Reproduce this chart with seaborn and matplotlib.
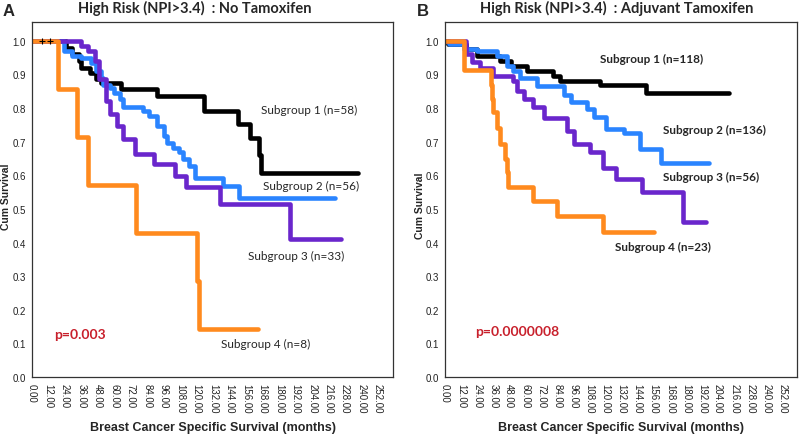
import matplotlib
matplotlib.use("Agg")
import matplotlib.pyplot as plt
import seaborn as sns
import pandas as pd

sns.set_theme(style="white")
plt.rcParams['font.family'] = ['DejaVu Sans']

# ---------------- Panel A: No Tamoxifen (time in months, cumulative survival)
a1_t = [0, 25, 29, 34, 36, 42, 47, 50, 65, 91, 125, 150, 159, 165, 167, 237.5]
a1_s = [1.0, 0.98, 0.96, 0.94, 0.92, 0.905, 0.888, 0.874, 0.856, 0.836, 0.792, 0.752, 0.712, 0.66, 0.606, 0.606]
a2_t = [0, 23, 29, 36, 43, 47, 50, 52, 57, 60, 64, 66, 81, 85, 91, 96, 98, 103, 107, 110, 114, 119, 139, 151, 220.5]
a2_s = [1.0, 0.97, 0.955, 0.95, 0.935, 0.91, 0.89, 0.87, 0.86, 0.846, 0.826, 0.802, 0.79, 0.777, 0.747, 0.717, 0.697, 0.68, 0.668, 0.648, 0.628, 0.593, 0.569, 0.534, 0.534]
a3_t = [0, 36, 41, 46, 49, 54, 57, 62, 66, 75, 89, 104, 112, 137, 188, 225]
a3_s = [1.0, 0.985, 0.97, 0.94, 0.886, 0.82, 0.782, 0.747, 0.707, 0.663, 0.633, 0.598, 0.564, 0.514, 0.41, 0.41]
a4_t = [0, 19, 33, 41, 76, 120, 122, 164.5]
a4_s = [1.0, 0.857, 0.714, 0.571, 0.429, 0.286, 0.143, 0.143]

# ---------------- Panel B: Adjuvant Tamoxifen
b1_t = [0, 2, 16, 24, 41, 49, 61, 81, 86, 116, 150, 212]
b1_s = [1.0, 0.99, 0.975, 0.955, 0.94, 0.926, 0.911, 0.896, 0.881, 0.868, 0.846, 0.846]
b2_t = [0, 3, 14, 24, 39, 46, 51, 56, 69, 89, 94, 106, 111, 120, 134, 146, 161, 197]
b2_s = [1.0, 0.99, 0.975, 0.97, 0.955, 0.925, 0.911, 0.891, 0.866, 0.84, 0.817, 0.797, 0.774, 0.737, 0.727, 0.678, 0.638, 0.638]
b3_t = [0, 16, 20, 26, 36, 51, 54, 59, 66, 74, 91, 96, 108, 118, 128, 147, 178, 195]
b3_s = [1.0, 0.96, 0.936, 0.92, 0.896, 0.88, 0.85, 0.827, 0.802, 0.772, 0.732, 0.693, 0.668, 0.623, 0.588, 0.549, 0.46, 0.46]
b4_t = [0, 14, 34, 35, 36, 39, 41, 45, 46, 47, 66, 84, 118, 156]
b4_s = [1.0, 0.913, 0.87, 0.826, 0.787, 0.74, 0.693, 0.65, 0.61, 0.564, 0.524, 0.479, 0.43, 0.43]

groups = ["Subgroup 1", "Subgroup 2", "Subgroup 3", "Subgroup 4"]
colors = ["#000000", "#2a84ff", "#6a26cc", "#ff8a1e"]

titles = ["High Risk (NPI>3.4)  : No Tamoxifen", "High Risk (NPI>3.4)  : Adjuvant Tamoxifen"]
panel_letters = ["A", "B"]
a_labels = ["Subgroup 1 (n=58)", "Subgroup 2 (n=56)", "Subgroup 3 (n=33)", "Subgroup 4 (n=8)"]
b_labels = ["Subgroup 1 (n=118)", "Subgroup 2 (n=136)", "Subgroup 3 (n=56)", "Subgroup 4 (n=23)"]
a_label_pos = [(167, 0.797), (168, 0.571), (157, 0.362), (138, 0.10)]
b_label_pos = [(116, 0.948), (163, 0.737), (163, 0.598), (127, 0.388)]
p_values = ["p=0.003", "p=0.0000008"]
p_pos = [(16.5, 0.127), (22.5, 0.137)]
censor_a_t = [7, 13]
censor_a_s = [1.0, 1.0]

x_ticks = list(range(0, 253, 12))
y_ticks = [i / 10 for i in range(11)]


def make_df(ts, ss):
    rows = []
    for g, t, s in zip(groups, ts, ss):
        for ti, si in zip(t, s):
            rows.append({"group": g, "month": ti, "surv": si})
    return pd.DataFrame(rows)


dfs = [make_df([a1_t, a2_t, a3_t, a4_t], [a1_s, a2_s, a3_s, a4_s]),
       make_df([b1_t, b2_t, b3_t, b4_t], [b1_s, b2_s, b3_s, b4_s])]

fig = plt.figure(figsize=(7.99, 4.35), dpi=100)
axes = [fig.add_axes([0.040, 0.131, 0.452, 0.816]),
        fig.add_axes([0.557, 0.131, 0.4405, 0.816])]
ylabel_x = [-0.058, -0.057]
ylabel_y = [0.51, 0.485]

narrow = ['Liberation Sans Narrow', 'Liberation Sans', 'DejaVu Sans']

for i, ax in enumerate(axes):
    sns.lineplot(data=dfs[i], x="month", y="surv", hue="group", hue_order=groups,
                 palette=colors, estimator=None, sort=False, drawstyle="steps-post",
                 linewidth=3.3, legend=False, ax=ax)
    ax.set_xlim(0, 263)
    ax.set_ylim(0, 1.056)
    ax.set_xticks(x_ticks)
    ax.set_xticklabels([f"{v:.2f}" for v in x_ticks], rotation=-90, family=narrow, fontsize=7)
    ax.set_yticks(y_ticks)
    ax.set_yticklabels([f"{v:.1f}" for v in y_ticks], family=narrow, fontsize=7)
    ax.tick_params(axis="both", direction="out", length=3, width=0.8, color="#333333", pad=1.5,
                   labelcolor="#222222")
    for sp in ax.spines.values():
        sp.set_visible(True)
        sp.set_color("#333333")
        sp.set_linewidth(0.9)
    ax.set_xlabel("Breast Cancer Specific Survival (months)", family=narrow, fontweight="bold",
                  fontsize=9, labelpad=6)
    ax.set_ylabel("Cum Survival", family=narrow, fontweight="bold", fontsize=7.5)
    ax.yaxis.set_label_coords(ylabel_x[i], ylabel_y[i])
    ax.grid(False)

# Annotations
for lab, (x, y) in zip(a_labels, a_label_pos):
    axes[0].text(x, y, lab, fontsize=8.5, family=['Lato', 'DejaVu Sans'], va="center", ha="left")
for lab, (x, y) in zip(b_labels, b_label_pos):
    axes[1].text(x, y, lab, fontsize=8.5, family=['Lato', 'DejaVu Sans'], fontweight="bold",
                 va="center", ha="left")
for ax, p, (x, y) in zip(axes, p_values, p_pos):
    ax.text(x, y, p, fontsize=10, family=['Lato', 'DejaVu Sans'], fontweight="bold",
            color="#c8202c", va="center", ha="left")
axes[0].plot(censor_a_t, censor_a_s, linestyle="none", marker="+", color="black",
             markersize=4, markeredgewidth=0.8)

fig.text(195 / 799, 1 - 8 / 435, titles[0], ha="center", va="center", fontsize=10.5,
         fontweight="bold", family=['Lato', 'DejaVu Sans'])
fig.text(617 / 799, 1 - 8 / 435, titles[1], ha="center", va="center", fontsize=10.5,
         fontweight="bold", family=['Lato', 'DejaVu Sans'])
fig.text(9 / 799, 1 - 12 / 435, panel_letters[0], ha="center", va="center", fontsize=12,
         fontweight="bold", family=['Liberation Sans', 'DejaVu Sans'])
fig.text(423 / 799, 1 - 12 / 435, panel_letters[1], ha="center", va="center", fontsize=12,
         fontweight="bold", family=['Liberation Sans', 'DejaVu Sans'])

fig.savefig("out.png", dpi=100)
